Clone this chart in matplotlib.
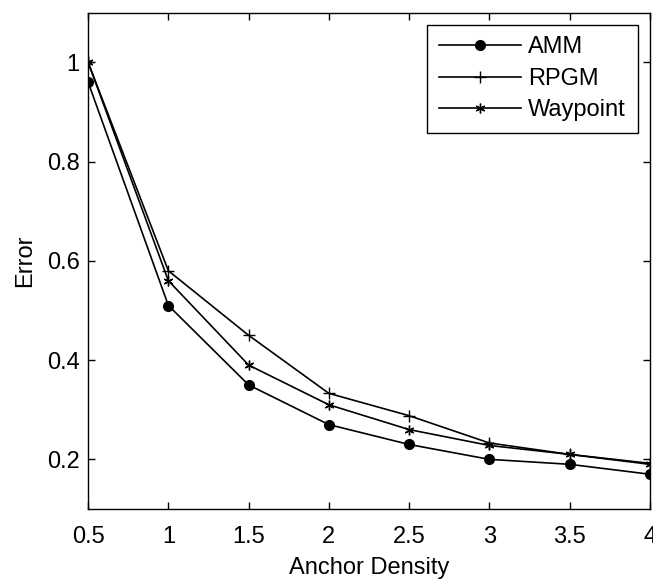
import matplotlib
matplotlib.use("Agg")
import matplotlib.pyplot as plt

plt.rcParams["font.family"] = ["Liberation Sans", "DejaVu Sans"]

density = [0.5, 1, 1.5, 2, 2.5, 3, 3.5, 4]
amm = [0.96, 0.51, 0.35, 0.27, 0.23, 0.20, 0.19, 0.17]
rpgm = [1.0, 0.58, 0.45, 0.333, 0.288, 0.233, 0.21, 0.192]
waypoint = [1.0, 0.56, 0.39, 0.31, 0.26, 0.228, 0.21, 0.19]

xticks = [0.5, 1, 1.5, 2, 2.5, 3, 3.5, 4]
xticklabels = ["0.5", "1", "1.5", "2", "2.5", "3", "3.5", "4"]
yticks = [0.2, 0.4, 0.6, 0.8, 1.0]
yticklabels = ["0.2", "0.4", "0.6", "0.8", "1"]

fig = plt.figure(figsize=(6.53, 5.81), dpi=100)
ax = fig.add_axes([0.135, 0.124, 0.86, 0.854])

ax.plot(density, amm, color="black", lw=1.2, marker="o", ms=7, label="AMM")
ax.plot(density, rpgm, color="black", lw=1.2, marker="+", ms=9, mew=1.0, label="RPGM")
ax.plot(density, waypoint, color="black", lw=1.2, marker=(6, 2, 0), ms=7, mew=1.0,
        label="Waypoint")

ax.set_xlim(0.5, 4)
ax.set_ylim(0.1, 1.1)
ax.set_xticks(xticks)
ax.set_xticklabels(xticklabels)
ax.set_yticks(yticks)
ax.set_yticklabels(yticklabels)
ax.tick_params(direction="in", top=True, right=True, labelsize=17, length=5, width=1)
ax.tick_params(axis="x", pad=12)
ax.tick_params(axis="y", pad=6)
for s in ax.spines.values():
    s.set_linewidth(1.0)

ax.set_xlabel("Anchor Density", fontsize=17, labelpad=7)
ax.set_ylabel("Error", fontsize=17, labelpad=8)

leg = ax.legend(loc="upper right", fontsize=17, handlelength=3.5, fancybox=False,
                edgecolor="black", framealpha=1, borderaxespad=0.5,
                labelspacing=0.4, handletextpad=0.3, borderpad=0.5)
leg.get_frame().set_linewidth(1.0)

fig.savefig("out.png", dpi=100)
